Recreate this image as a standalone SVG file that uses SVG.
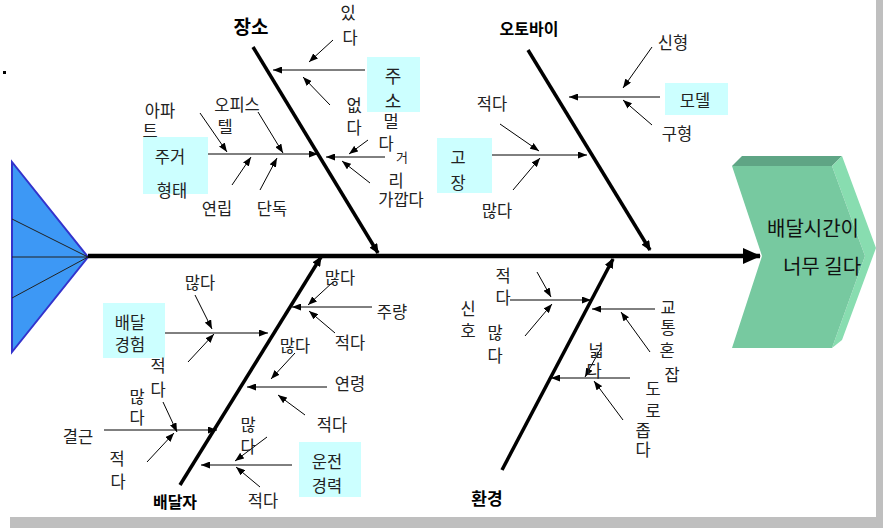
<svg xmlns="http://www.w3.org/2000/svg" width="883" height="528" viewBox="0 0 883 528">
<defs>
<marker id="a" markerUnits="userSpaceOnUse" markerWidth="9" markerHeight="7" refX="9" refY="3.5" orient="auto"><path d="M0,0 L9,3.5 L0,7 z" fill="#000"/></marker>
<marker id="b" markerUnits="userSpaceOnUse" markerWidth="10" markerHeight="9" refX="9" refY="4.5" orient="auto"><path d="M0,0 L10,4.5 L0,9 z" fill="#000"/></marker>
<marker id="m" markerUnits="userSpaceOnUse" markerWidth="18" markerHeight="16" refX="17" refY="8" orient="auto"><path d="M0,0 L18,8 L0,16 z" fill="#000"/></marker>
</defs>
<style>
text{font-family:"Noto Sans CJK KR","Noto Sans",sans-serif;font-size:16.5px;fill:#222;text-anchor:middle;dominant-baseline:central}
.bt{font-weight:bold;fill:#000;font-size:17px}
.box{fill:#ccffff}
.c{stroke:#000;stroke-width:1;fill:none;marker-end:url(#a)}
.bone{stroke:#000;stroke-width:3.5;fill:none;marker-end:url(#b)}
.hd{font-size:20px;fill:#111}
</style>
<rect x="0" y="0" width="883" height="528" fill="#fff"/>
<rect x="876" y="0" width="7" height="528" fill="#bfbfbf"/>
<rect x="10" y="517" width="873" height="11" fill="#bfbfbf"/>
<rect x="3" y="71" width="3" height="3" fill="#000"/>

<g id="tail">
<polygon points="12,162 12,352 88,257" fill="#3d98f5" stroke="#3333cc" stroke-width="2"/>
<path d="M12,219 L88,257 M12,257 L88,257 M12,298 L88,257" stroke="#222" stroke-width="1" fill="none"/>
</g>

<g id="head">
<polygon points="732,166 742,156 842,156 832,166" fill="#5fa585"/>
<polygon points="832,166 842,156 876,248 842,340 832,348 865,256" fill="#88ddb0"/>
<polygon points="732,166 832,166 865,256 832,348 732,348 762,256" fill="#77c9a0"/>
<text class="hd" x="813" y="227">배달시간이</text>
<text class="hd" x="822" y="265">너무 길다</text>
</g>

<g id="connectors">
<line class="bone" x1="88" y1="256" x2="760" y2="256" style="stroke-width:4.5;marker-end:url(#m)"/>
<line class="bone" x1="253" y1="47" x2="378" y2="253"/>
<line class="bone" x1="528" y1="50" x2="650" y2="250"/>
<line class="bone" x1="180" y1="485" x2="321" y2="257"/>
<line class="bone" x1="502" y1="470" x2="613" y2="259"/>
<line class="c" x1="365" y1="70" x2="273" y2="70"/>
<line class="c" x1="333" y1="40" x2="309" y2="62"/>
<line class="c" x1="330" y1="105" x2="303" y2="77"/>
<line class="c" x1="208" y1="154" x2="318" y2="154"/>
<line class="c" x1="385" y1="157" x2="326" y2="157"/>
<line class="c" x1="368" y1="140" x2="349" y2="154"/>
<line class="c" x1="370" y1="183" x2="342" y2="161"/>
<line class="c" x1="200" y1="113" x2="227" y2="152"/>
<line class="c" x1="258" y1="112" x2="283" y2="153"/>
<line class="c" x1="232" y1="185" x2="251" y2="157"/>
<line class="c" x1="260" y1="190" x2="277" y2="158"/>
<line class="c" x1="660" y1="97" x2="569" y2="97"/>
<line class="c" x1="652" y1="47" x2="623" y2="88"/>
<line class="c" x1="652" y1="125" x2="623" y2="100"/>
<line class="c" x1="492" y1="155" x2="587" y2="155"/>
<line class="c" x1="500" y1="124" x2="539" y2="151"/>
<line class="c" x1="513" y1="190" x2="540" y2="158"/>
<line class="c" x1="372" y1="307" x2="292" y2="307"/>
<line class="c" x1="333" y1="282" x2="308" y2="305"/>
<line class="c" x1="335" y1="333" x2="309" y2="311"/>
<line class="c" x1="165" y1="333" x2="268" y2="333"/>
<line class="c" x1="195" y1="295" x2="212" y2="329"/>
<line class="c" x1="188" y1="362" x2="214" y2="334"/>
<line class="c" x1="327" y1="387" x2="247" y2="387"/>
<line class="c" x1="295" y1="353" x2="271" y2="379"/>
<line class="c" x1="305" y1="415" x2="278" y2="395"/>
<line class="c" x1="104" y1="430" x2="217" y2="430"/>
<line class="c" x1="163" y1="402" x2="177" y2="432"/>
<line class="c" x1="147" y1="462" x2="174" y2="433"/>
<line class="c" x1="292" y1="465" x2="201" y2="465"/>
<line class="c" x1="267" y1="437" x2="235" y2="461"/>
<line class="c" x1="260" y1="487" x2="236" y2="467"/>
<line class="c" x1="510" y1="300" x2="591" y2="300"/>
<line class="c" x1="537" y1="272" x2="551" y2="297"/>
<line class="c" x1="525" y1="336" x2="552" y2="304"/>
<line class="c" x1="655" y1="309" x2="592" y2="309"/>
<line class="c" x1="650" y1="352" x2="621" y2="312"/>
<line class="c" x1="630" y1="378" x2="551" y2="378"/>
<line class="c" x1="601" y1="348" x2="585" y2="377"/>
<line class="c" x1="623" y1="420" x2="594" y2="381"/>
</g>

<g id="bone-place"><text class="bt" x="251" y="25" style="font-size:19px">장소</text></g>
<g id="bone-bike"><text class="bt" x="529" y="28" style="font-size:16px">오토바이</text></g>
<g id="bone-rider"><text class="bt" x="175" y="501" style="font-size:16px">배달자</text></g>
<g id="bone-env"><text class="bt" x="487" y="497">환경</text></g>

<g id="n-address"><rect class="box" x="367" y="57" width="53" height="55"/><text x="393" y="75" style="font-size:18px">주</text><text x="393" y="100" style="font-size:18px">소</text></g>
<g id="n-yes"><text x="348" y="12">있</text><text x="350" y="37">다</text></g>
<g id="n-no"><text x="354" y="105">없</text><text x="354" y="127">다</text></g>
<g id="n-dist"><text x="402" y="156" style="font-size:13px">거</text><text x="396" y="180">리</text></g>
<g id="n-far"><text x="391" y="121">멀</text><text x="386" y="143">다</text></g>
<g id="n-near"><text x="401" y="199">가깝다</text></g>
<g id="n-housing"><rect class="box" x="143" y="137" width="65" height="57"/><text x="170" y="156">주거</text><text x="172" y="190">형태</text></g>
<g id="n-apt"><text x="160" y="110">아파</text><text x="150" y="130">트</text></g>
<g id="n-office"><text x="237" y="104">오피스</text><text x="225" y="126">텔</text></g>
<g id="n-villa"><text x="217" y="208">연립</text></g>
<g id="n-house"><text x="272" y="208">단독</text></g>

<g id="n-model"><rect class="box" x="665" y="83" width="63" height="32"/><text x="695" y="100">모델</text></g>
<g id="n-new"><text x="673" y="42">신형</text></g>
<g id="n-old"><text x="677" y="133">구형</text></g>
<g id="n-fault"><rect class="box" x="437" y="138" width="55" height="55"/><text x="458" y="157">고</text><text x="458" y="182">장</text></g>
<g id="n-fault-few"><text x="492" y="103">적다</text></g>
<g id="n-fault-many"><text x="497" y="210">많다</text></g>

<g id="n-exp"><rect class="box" x="103" y="303" width="62" height="55"/><text x="130" y="322">배달</text><text x="130" y="344">경험</text></g>
<g id="n-exp-many"><text x="200" y="282">많다</text></g>
<g id="n-exp-few"><text x="158" y="365">적</text><text x="158" y="389">다</text></g>
<g id="n-drink"><text x="392" y="311">주량</text></g>
<g id="n-drink-many"><text x="340" y="277">많다</text></g>
<g id="n-drink-few"><text x="350" y="342">적다</text></g>
<g id="n-age"><text x="350" y="383">연령</text></g>
<g id="n-age-many"><text x="295" y="345">많다</text></g>
<g id="n-age-few"><text x="332" y="424">적다</text></g>
<g id="n-absence"><text x="78" y="436">결근</text></g>
<g id="n-abs-many"><text x="137" y="396">많</text><text x="137" y="417">다</text></g>
<g id="n-abs-few"><text x="117" y="458">적</text><text x="118" y="481">다</text></g>
<g id="n-career"><rect class="box" x="299" y="442" width="62" height="55"/><text x="327" y="461">운전</text><text x="327" y="485">경력</text></g>
<g id="n-car-many"><text x="248" y="424">많</text><text x="248" y="446">다</text></g>
<g id="n-car-few"><text x="263" y="500">적다</text></g>

<g id="n-signal"><text x="468" y="308">신</text><text x="468" y="330">호</text></g>
<g id="n-sig-few"><text x="503" y="275">적</text><text x="503" y="297">다</text></g>
<g id="n-sig-many"><text x="495" y="332">많</text><text x="495" y="355">다</text></g>
<g id="n-traffic"><text x="668" y="307">교</text><text x="668" y="327">통</text><text x="667" y="350">혼</text><text x="672" y="374">잡</text></g>
<g id="n-road"><text x="653" y="388">도</text><text x="653" y="410">로</text></g>
<g id="n-wide"><text x="596" y="350">넓</text><text x="594" y="370">다</text></g>
<g id="n-narrow"><text x="643" y="430">좁</text><text x="643" y="449">다</text></g>
</svg>
